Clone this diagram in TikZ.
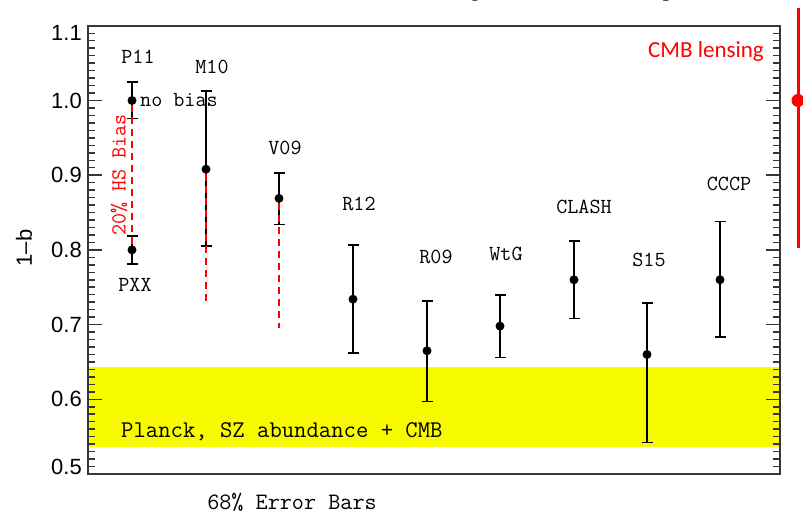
\documentclass[tikz,border=0pt]{standalone}
\usepackage{fontspec}
\newfontfamily\achsenfont{Liberation Sans}
\newfontfamily\folienfont{Carlito}
\usetikzlibrary{arrows.meta}
\definecolor{bandgelb}{RGB}{248,250,0}
\definecolor{rahmengrau}{RGB}{55,55,55}
\tikzset{
  rahmen/.style={draw=rahmengrau,line width=1.8pt},
  strich/.style={rahmengrau,line width=1.5pt},
  punkt/.style={circle,fill=black,inner sep=0pt,minimum size=9pt},
  fehler/.style={line width=1.6pt,{Bar[width=11pt,line width=1.6pt]}-{Bar[width=11pt,line width=1.6pt]}},
  bias/.style={red,dash pattern=on 7pt off 5pt,line width=1.5pt},
  marke/.style={font=\ttfamily\fontsize{21.5}{25}\selectfont,inner sep=0pt},
  zahl/.style={font=\achsenfont\fontsize{22}{26}\selectfont,anchor=east,inner sep=0pt}
}
\begin{document}
\begin{tikzpicture}[x=1pt,y=747pt]
  \useasboundingbox (0,0.44645) rectangle (803,1.13454);
  % Titelreste
  \node[anchor=base west,inner sep=0pt,font=\folienfont\fontsize{60}{60}\selectfont] (titely) at (466,1.146) {y};
  \node[anchor=base west,inner sep=0pt,font=\folienfont\fontsize{60}{60}\selectfont] (titelp) at (659,1.146) {p};
  % Planck-Band
  \fill[bandgelb] (88,0.536) rectangle (780,0.643);
  % Achsen
  \draw[rahmen] (88,0.5) rectangle (780,1.1);
  \foreach \i in {50,...,110} {
    \draw[strich] (88,\i/100) -- ++(7,0);
    \draw[strich] (780,\i/100) -- ++(-7,0);
  }
  \foreach \i in {5,...,11} {
    \draw[strich] (88,\i/10) -- ++(14,0);
    \draw[strich] (780,\i/10) -- ++(-14,0);
  }
  \foreach \v/\y [count=\k] in {0.5/0.509,0.6/0.6,0.7/0.7,0.8/0.8,0.9/0.9,1.0/1.0,1.1/1.090}
    \node[zahl] (ylab\k) at (82,\y) {\v};
  \node[rotate=90,inner sep=0pt,font=\achsenfont\fontsize{22}{26}\selectfont] (ylabel) at (24,0.8025) {1\textendash b};
  % Messpunkte
  \foreach \n/\x/\v/\o/\u in {p11/132/1.0/1.026/0.975, pxx/132/0.8/0.82/0.78,
      m10/206/0.908/1.014/0.804, v09/279/0.869/0.904/0.833, r12/353/0.734/0.808/0.661,
      r09/427/0.665/0.733/0.596, wtg/500/0.698/0.741/0.655, clash/574/0.760/0.813/0.707,
      s15/647/0.660/0.730/0.541, cccp/720/0.760/0.839/0.682} {
    \coordinate (\n-o) at (\x,\o);
    \coordinate (\n-u) at (\x,\u);
    \draw[fehler] (\n-u) -- (\n-o);
    \node[punkt] (\n) at (\x,\v) {};
  }
  % HS Bias
  \coordinate (m10-rot) at (206,0.726);
  \coordinate (v09-rot) at (279,0.696);
  \draw[bias] (p11) -- (pxx);
  \draw[bias] (m10) -- (m10-rot);
  \draw[bias] (v09) -- (v09-rot);
  \node[marke,text=red,rotate=90] (hsbias) at (119,0.9003) {20\% HS Bias};
  % Beschriftung
  \foreach \n/\x/\v/\t in {p11/138/1.0582/P11, pxx/135/0.753/PXX, m10/212/1.0448/M10,
      v09/285/0.9364/V09, r12/359/0.8614/R12, r09/436/0.7912/R09, wtg/506/0.7945/WtG,
      clash/584/0.8574/CLASH, s15/649/0.7865/S15, cccp/729/0.8882/CCCP}
    \node[marke] (\n-lab) at (\x,\v) {\t};
  \node[marke,anchor=west] (nobias) at (140,1.0) {no bias};
  \node[marke,anchor=base west,font=\ttfamily\fontsize{24}{28}\selectfont] (planck) at (121,0.5495) {Planck, SZ abundance + CMB};
  \node[marke,anchor=base,font=\ttfamily\fontsize{23.5}{28}\selectfont] (fehlerbalken) at (292,0.4525) {68\% Error Bars};
  % CMB lensing
  \coordinate (cmb-o) at (798,1.1238);
  \coordinate (cmb-u) at (798,0.8025);
  \draw[red,line width=3pt] (cmb-o) -- (cmb-u);
  \node[circle,fill=red,inner sep=0pt,minimum size=13pt] (cmb) at (798,1.0) {};
  \node[anchor=base east,inner sep=0pt,text=red,font=\folienfont\fontsize{23}{27}\selectfont] (cmblens) at (764,1.0569) {CMB lensing};
\end{tikzpicture}
\end{document}
